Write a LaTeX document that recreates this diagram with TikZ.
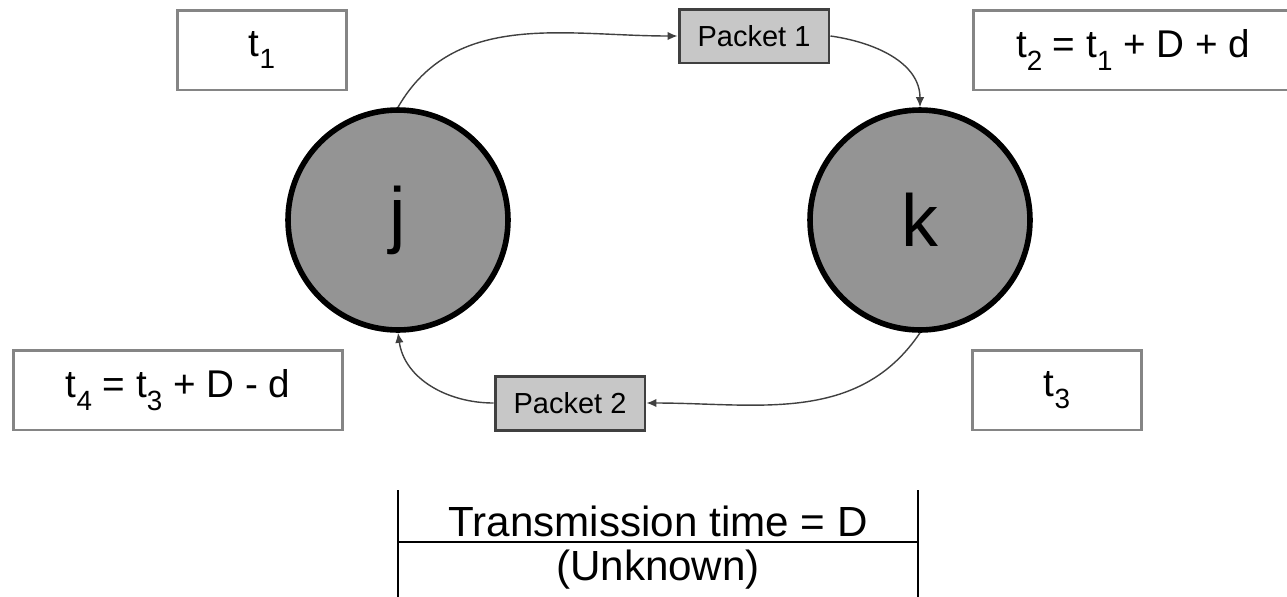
\documentclass[tikz,border=0pt]{standalone}
\usepackage{fontspec}
\setmainfont{Liberation Sans}
\usetikzlibrary{arrows.meta}
\newcommand{\tsub}[1]{t\raisebox{-0.6ex}{\scalebox{0.72}{#1}}}

\begin{document}
\begin{tikzpicture}[x=0.02cm, y=-0.02cm,
	timebox/.style={draw=black!48, line width=1.7pt, fill=white, inner sep=0pt, font=\fontsize{22}{26}\selectfont},
	packet/.style={draw=black!75, line width=1.7pt, fill=black!22, minimum width=3.0cm, minimum height=1.08cm, inner sep=0pt, font=\fontsize{16.5}{19}\selectfont},
	station/.style={circle, draw=black, line width=3.2pt, fill=black!42, minimum size=4.4cm, inner sep=0pt, font=\fontsize{42}{48}\selectfont},
	msg/.style={draw=black!75, line width=0.8pt, -{Latex[length=2mm,width=1.7mm]}}]
			%%%%% START %%%%%
			
			\useasboundingbox (0, 0) rectangle (1287, 596);
			\clip (0, 0) rectangle (1287, 596);
			
			% stations
			\node[station] (j) at (398, 220) {j};
			\node[station] (k) at (920, 220) {k};
			
			% packets
			\node[packet] (p1) at (754, 36) {Packet 1};
			\node[packet] (p2) at (570, 403) {Packet 2};
			
			% times
			\node[timebox, minimum width=3.4cm, minimum height=1.6cm] (t1) at (262, 50) {\tsub{1}};
			\node[timebox, minimum width=6.4cm, minimum height=1.6cm] (t2) at (1133, 50) {\tsub{2} = \tsub{1} + D + d};
			\node[timebox, minimum width=3.38cm, minimum height=1.6cm] (t3) at (1057, 390) {\tsub{3}};
			\node[timebox, minimum width=6.6cm, minimum height=1.6cm] (t4) at (178, 390) {\tsub{4} = \tsub{3} + D - d};
			
			% messages
			\draw[msg] (j.north) to[out=60, in=180] (p1.west);
			\draw[msg] (p1.east) to[out=-8, in=90] (k.north);
			\draw[msg] (k.south) to[out=236, in=0] (p2.east);
			\draw[msg] (p2.west) to[out=180, in=-82] (j.south);
			
			% transmission time
			\coordinate (dl) at (398, 490);
			\coordinate (dr) at (918, 490);
			\draw[line width=1pt] (dl) -- ++(0, 110);
			\draw[line width=1pt] (dr) -- ++(0, 110);
			\draw[line width=1.1pt] (398, 542) -- (918, 542);
			\node[font=\fontsize{24}{28}\selectfont] (tx) at (658, 521) {Transmission time = D};
			\node[font=\fontsize{24}{28}\selectfont] (uk) at (658, 570) {(Unknown)};
			
			%%%%% END %%%%%
\end{tikzpicture}
\end{document}
